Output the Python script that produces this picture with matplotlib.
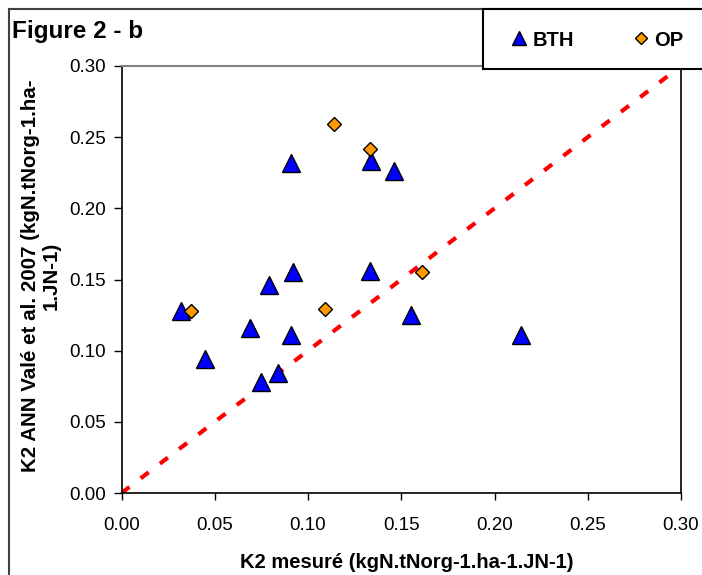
import matplotlib
matplotlib.use('Agg')
import matplotlib.pyplot as plt
from matplotlib.lines import Line2D
from matplotlib.ticker import FormatStrFormatter

plt.rcParams['font.family'] = ['Liberation Sans', 'DejaVu Sans']

# BTH series
bth_x = [0.032, 0.045, 0.069, 0.075, 0.084, 0.079, 0.092, 0.091, 0.091, 0.134, 0.146, 0.133, 0.155, 0.214]
bth_y = [0.128, 0.094, 0.116, 0.078, 0.084, 0.146, 0.155, 0.111, 0.232, 0.233, 0.226, 0.156, 0.125, 0.111]
# OP series
op_x = [0.037, 0.109, 0.114, 0.133, 0.161]
op_y = [0.128, 0.129, 0.259, 0.242, 0.155]
# 1:1 line
diag = [0.0, 0.30]
ticks = [0.00, 0.05, 0.10, 0.15, 0.20, 0.25, 0.30]

W, H = 702, 575
fig = plt.figure(figsize=(W / 100, H / 100), dpi=100)
ax = fig.add_axes([121.5 / W, 1 - 493 / H, (681 - 121.5) / W, (493 - 66) / H])

ax.plot(diag, diag, color='#FF0000', lw=3, linestyle=(0, (2.4, 3.4)),
        dash_capstyle='butt', zorder=2)
ax.plot(bth_x, bth_y, linestyle='none', marker='^', ms=13, mfc='#0000FF',
        mec='black', mew=1, zorder=3)
ax.plot(op_x, op_y, linestyle='none', marker='D', ms=7, mfc='#FF9900',
        mec='black', mew=1, zorder=4)

ax.set_xlim(0, 0.30)
ax.set_ylim(0, 0.30)
ax.set_xticks(ticks)
ax.set_yticks(ticks)
ax.xaxis.set_major_formatter(FormatStrFormatter('%.2f'))
ax.yaxis.set_major_formatter(FormatStrFormatter('%.2f'))
ax.tick_params(axis='x', direction='out', length=5, width=1, pad=12, labelsize=13.5)
ax.tick_params(axis='y', direction='out', length=6, width=1, pad=5, labelsize=13.5)
for s in ['left', 'bottom', 'right']:
    ax.spines[s].set_color('black')
    ax.spines[s].set_linewidth(1.2)
ax.spines['top'].set_color('#808080')
ax.spines['top'].set_linewidth(1.5)

ax.set_xlabel('K2 mesuré (kgN.tNorg-1.ha-1.JN-1)', fontsize=14.5, fontweight='bold')
ax.xaxis.set_label_coords(0.510, -0.14)

fig.text(41 / W, 1 - 276 / H, 'K2 ANN Valé et al. 2007 (kgN.tNorg-1.ha-\n1.JN-1)',
         fontsize=14.8, fontweight='bold', rotation=90, ha='center', va='center',
         multialignment='center', linespacing=1.1)

fig.text(12 / W, 1 - 38 / H, 'Figure 2 - b', fontsize=17.5, fontweight='bold',
         ha='left', va='baseline')

# outer chart border and legend frame
fig.add_artist(Line2D([9 / W, 9 / W], [0, 1 - 9 / H], color='#404040', lw=1.5))
fig.add_artist(Line2D([9 / W, 1], [1 - 9 / H, 1 - 9 / H], color='#404040', lw=1.5))
fig.add_artist(plt.Rectangle((483 / W, 1 - 69 / H), 0.5, 60 / H, fill=True,
                             facecolor='white', edgecolor='black', lw=1.5, zorder=5))

handles = [Line2D([], [], linestyle='none', marker='^', ms=9.5, mfc='#0000FF',
                  mec='black', mew=1),
           Line2D([], [], linestyle='none', marker='D', ms=6.5, mfc='#FF9900',
                  mec='black', mew=1)]
leg = fig.legend(handles, ['BTH', 'OP'], loc='center left',
                 bbox_to_anchor=(501 / W, 1 - 40 / H), ncol=2, frameon=False,
                 borderpad=0, handlelength=0.8, handletextpad=0.27,
                 columnspacing=2.9, prop={'weight': 'bold', 'size': 14.5})
leg.set_zorder(6)

fig.savefig('out.png', dpi=100)
